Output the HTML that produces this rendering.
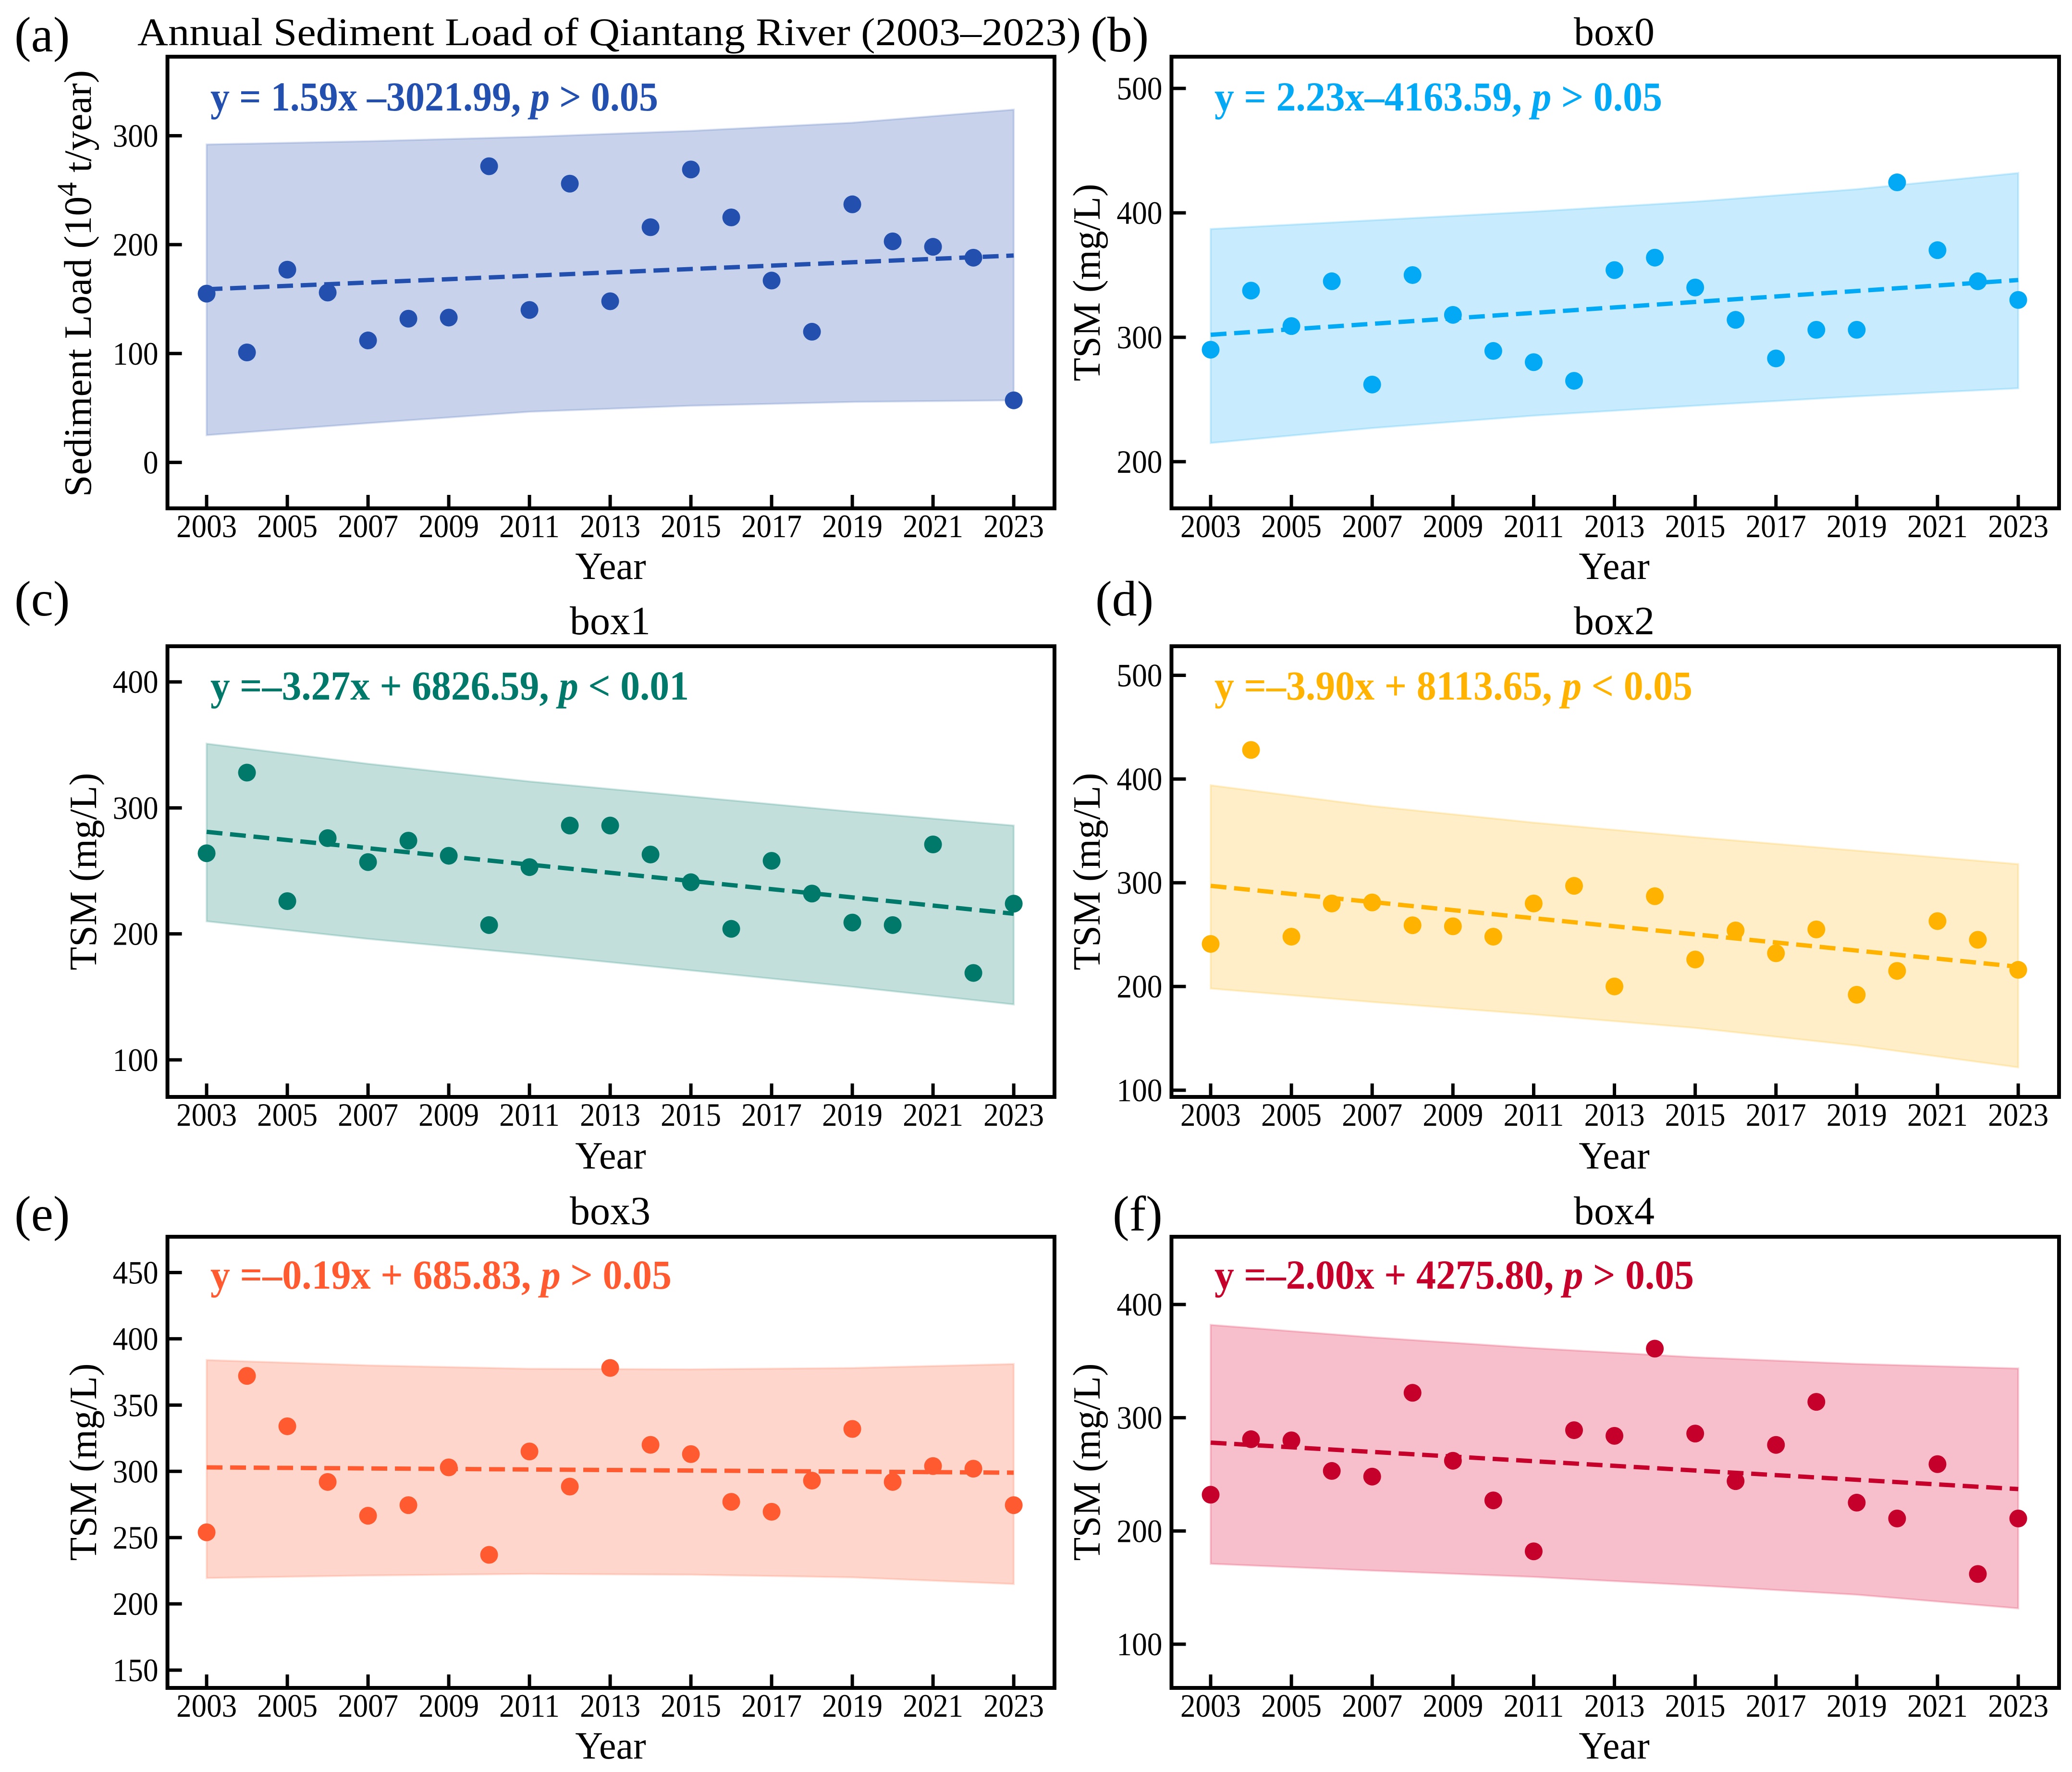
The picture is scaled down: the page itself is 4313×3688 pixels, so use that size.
<!DOCTYPE html>
<html lang="en">
<head>
<meta charset="utf-8">
<title>Annual Sediment Load and TSM of Qiantang River (2003–2023)</title>
<style>
html,body{margin:0;padding:0;background:#fff;}
svg{display:block;}
text{font-family:"Liberation Serif",serif;fill:#000;}
.lbl{font-size:104px;}
.ttl{font-size:84px;text-anchor:middle;}
.ax{font-size:80px;text-anchor:middle;}
.eq{font-size:86px;font-weight:bold;}
.eq tspan{font-style:italic;}
</style>
</head>
<body>
<svg id="figure" xmlns="http://www.w3.org/2000/svg" width="4313" height="3688" viewBox="0 0 4313 3688">
<rect width="4313" height="3688" fill="#fff"/>

<g id="panel-a"></g>
<g id="panel-b"></g>
<g id="panel-c"></g>
<g id="panel-d"></g>
<g id="panel-e"></g>
<g id="panel-f"></g>

<!-- Panel letters -->
<text class="lbl" x="30" y="107">(a)</text>
<text class="lbl" x="2270" y="107">(b)</text>
<text class="lbl" x="30" y="1281">(c)</text>
<text class="lbl" x="2280" y="1281">(d)</text>
<text class="lbl" x="30" y="2561">(e)</text>
<text class="lbl" x="2316" y="2561">(f)</text>

<!-- Titles -->
<text x="286" y="94" font-size="82" textLength="1964" lengthAdjust="spacingAndGlyphs">Annual Sediment Load of Qiantang River (2003–2023)</text>
<text class="ttl" x="3360" y="94">box0</text>
<text class="ttl" x="1270" y="1320">box1</text>
<text class="ttl" x="3360" y="1320">box2</text>
<text class="ttl" x="1270" y="2548">box3</text>
<text class="ttl" x="3360" y="2548">box4</text>

<!-- X axis titles -->
<text class="ax" x="1271" y="1205">Year</text>
<text class="ax" x="3360" y="1205">Year</text>
<text class="ax" x="1271" y="2432">Year</text>
<text class="ax" x="3360" y="2432">Year</text>
<text class="ax" x="1271" y="3660">Year</text>
<text class="ax" x="3360" y="3660">Year</text>

<!-- Y axis titles -->
<text font-size="80" text-anchor="middle" transform="translate(189,590) rotate(-90)" textLength="888" lengthAdjust="spacingAndGlyphs">Sediment Load (10<tspan dy="-30" font-size="58">4</tspan><tspan dy="30"> t/year)</tspan></text>
<text class="ax" transform="translate(2289,588) rotate(-90)">TSM (mg/L)</text>
<text class="ax" transform="translate(200,1814) rotate(-90)">TSM (mg/L)</text>
<text class="ax" transform="translate(2289,1814) rotate(-90)">TSM (mg/L)</text>
<text class="ax" transform="translate(200,3043) rotate(-90)">TSM (mg/L)</text>
<text class="ax" transform="translate(2289,3043) rotate(-90)">TSM (mg/L)</text>

<!-- Regression equations -->
<text class="eq" x="438" y="230" style="fill:#2350ae" textLength="932" lengthAdjust="spacingAndGlyphs">y = 1.59x –3021.99, <tspan>p</tspan> &gt; 0.05</text>
<text class="eq" x="2528" y="230" style="fill:#03a9f4" textLength="932" lengthAdjust="spacingAndGlyphs">y = 2.23x–4163.59, <tspan>p</tspan> &gt; 0.05</text>
<text class="eq" x="438" y="1456" style="fill:#00796b" textLength="996" lengthAdjust="spacingAndGlyphs">y =–3.27x + 6826.59, <tspan>p</tspan> &lt; 0.01</text>
<text class="eq" x="2528" y="1456" style="fill:#ffb300" textLength="995" lengthAdjust="spacingAndGlyphs">y =–3.90x + 8113.65, <tspan>p</tspan> &lt; 0.05</text>
<text class="eq" x="438" y="2682" style="fill:#ff5a30" textLength="960" lengthAdjust="spacingAndGlyphs">y =–0.19x + 685.83, <tspan>p</tspan> &gt; 0.05</text>
<text class="eq" x="2528" y="2682" style="fill:#c5002a" textLength="998" lengthAdjust="spacingAndGlyphs">y =–2.00x + 4275.80, <tspan>p</tspan> &gt; 0.05</text>
</svg>

<script>
// ---- shared data ----
const years = [2003,2004,2005,2006,2007,2008,2009,2010,2011,2012,2013,2014,2015,2016,2017,2018,2019,2020,2021,2022,2023];
const xTickYears = [2003,2005,2007,2009,2011,2013,2015,2017,2019,2021,2023];
const trendYears = [2003,2023];
const bandYears = [2003,2007,2011,2015,2019,2023];

// ---- panel (a) sediment load ----
const valuesA = [155,101,177,156,112,132,133,272,140,256,148,216,269,225,167,120,237,203,198,188,57];
const trendA = [159,190];
const upperA = [292,295,299,304.5,312,324];
const lowerA = [25,36,46.5,52,55.5,57];
const yTicksA = [0,100,200,300];

// ---- panel (b) box0 ----
const valuesB = [290,337.5,309,345,262,350,318,289,280,265,354,364,340,314,283,306,306,424.5,370,345,330];
const trendB = [302,346];
const upperB = [387,394,401,409,419,432];
const lowerB = [215,227,237,245,252.5,259];
const yTicksB = [200,300,400,500];

// ---- panel (c) box1 ----
const valuesC = [264,328,226,276,257,274,262,207,253,286,286,263,241,204,258,232,209,207,271,169,224];
const trendC = [281,216];
const upperC = [351,335,321,309,297,286];
const lowerC = [210,196,184,171,158,144];
const yTicksC = [100,200,300,400];

// ---- panel (d) box2 ----
const valuesD = [241,428,248,280,281,259,258,248,280,297,200,287,226,254,232,255,192,215,263,245,216];
const trendD = [297,219];
const upperD = [394,374,358,344,331,318];
const lowerD = [198,185,173,160,143,122];
const yTicksD = [100,200,300,400,500];

// ---- panel (e) box3 ----
const valuesE = [254,372,334,292,266.5,274.5,303,237,315,288.5,378,320,313,277,269.5,293,332,292,304,302,274.5];
const trendE = [303,299];
const upperE = [384,380,377.4,377,378,381];
const lowerE = [219.5,221.4,222.6,222,220,215];
const yTicksE = [150,200,250,300,350,400,450];

// ---- panel (f) box4 ----
const valuesF = [232,281,280,253,248,322,262,227,182,289,284,361,286,244,276,314,225,211,259,162,211];
const trendF = [278,237];
const upperF = [382,371,361.5,353.4,347.5,343.5];
const lowerF = [171,165,159.4,152,143.7,131.6];
const yTicksF = [100,200,300,400];

// ---- panel layout ----
const COL1 = {left:348.6, right:2195};
const COL2 = {left:2438.5, right:4286};
const XMIN = 2002.03, XMAX = 2024.01;
const panels = [
  {id:'a', col:COL1, top:118,  bottom:1058, yMin:-42.2, yMax:372.6, color:'#2350ae', bandColor:'#2350ae', bandAlpha:.25, values:valuesA, trend:trendA, upper:upperA, lower:lowerA, ticks:yTicksA},
  {id:'b', col:COL2, top:118,  bottom:1058, yMin:162.5, yMax:525.5, color:'#03a9f4', bandColor:'#03a9f4', bandAlpha:.22, values:valuesB, trend:trendB, upper:upperB, lower:lowerB, ticks:yTicksB},
  {id:'c', col:COL1, top:1345, bottom:2283, yMin:70.6,  yMax:428.3, color:'#00796b', bandColor:'#00796b', bandAlpha:.24, values:valuesC, trend:trendC, upper:upperC, lower:lowerC, ticks:yTicksC},
  {id:'d', col:COL2, top:1345, bottom:2283, yMin:93.5,  yMax:528,   color:'#ffb300', bandColor:'#ffb300', bandAlpha:.22, values:valuesD, trend:trendD, upper:upperD, lower:lowerD, ticks:yTicksD},
  {id:'e', col:COL1, top:2574, bottom:3513, yMin:136.6, yMax:477,   color:'#ff5a30', bandColor:'#ff5a30', bandAlpha:.25, values:valuesE, trend:trendE, upper:upperE, lower:lowerE, ticks:yTicksE},
  {id:'f', col:COL2, top:2574, bottom:3513, yMin:61.4,  yMax:459.8, color:'#c5002a', bandColor:'#e00030', bandAlpha:.25, values:valuesF, trend:trendF, upper:upperF, lower:lowerF, ticks:yTicksF}
];

const NS = 'http://www.w3.org/2000/svg';
function make(tag, parent) {
  const el = document.createElementNS(NS, tag);
  parent.appendChild(el);
  return el;
}

panels.forEach(function (p) {
  const g = document.getElementById('panel-' + p.id);
  const L = p.col.left, R = p.col.right, T = p.top, B = p.bottom;
  const xScale = function (v) { return L + (v - XMIN) / (XMAX - XMIN) * (R - L); };
  const yScale = function (v) { return B - (v - p.yMin) / (p.yMax - p.yMin) * (B - T); };

  // confidence band
  const top = bandYears.map(function (y, i) { return xScale(y) + ',' + yScale(p.upper[i]); });
  const bot = bandYears.map(function (y, i) { return xScale(y) + ',' + yScale(p.lower[i]); }).reverse();
  const band = make('polygon', g);
  
  
  band.setAttribute('points', top.concat(bot).join(' '));
  band.setAttribute('fill', p.bandColor);
  band.setAttribute('fill-opacity', p.bandAlpha);
  band.setAttribute('stroke', p.bandColor);
  band.setAttribute('stroke-opacity', '0.18');
  band.setAttribute('stroke-width', '4');

  // trend line
  const trend = make('line', g);
  
  
  trend.setAttribute('x1', xScale(trendYears[0]));
  trend.setAttribute('y1', yScale(p.trend[0]));
  trend.setAttribute('x2', xScale(trendYears[1]));
  trend.setAttribute('y2', yScale(p.trend[1]));
  trend.setAttribute('stroke', p.color);
  trend.setAttribute('stroke-width', '9');
  trend.setAttribute('stroke-dasharray', '33 16');

  // points
  years.forEach(function (yr, i) {
    const c = make('circle', g);
    
    
    c.setAttribute('cx', xScale(yr));
    c.setAttribute('cy', yScale(p.values[i]));
    c.setAttribute('r', '18.5');
    c.setAttribute('fill', p.color);
  });

  // frame
  const frame = make('rect', g);
  
  
  frame.setAttribute('x', L);
  frame.setAttribute('y', T);
  frame.setAttribute('width', R - L);
  frame.setAttribute('height', B - T);
  frame.setAttribute('fill', 'none');
  frame.setAttribute('stroke', '#000');
  frame.setAttribute('stroke-width', '8');

  // x ticks
  xTickYears.forEach(function (yr) {
    const t = make('line', g);
    
    
    t.setAttribute('x1', xScale(yr));
    t.setAttribute('x2', xScale(yr));
    t.setAttribute('y1', B);
    t.setAttribute('y2', B - 28);
    t.setAttribute('stroke', '#000');
    t.setAttribute('stroke-width', '7');
    const lab = make('text', g);
    
    
    lab.setAttribute('x', xScale(yr) - 63);
    lab.setAttribute('y', B + 60);
    lab.setAttribute('font-size', '68');
    lab.setAttribute('textLength', '126');
    lab.setAttribute('lengthAdjust', 'spacingAndGlyphs');
    lab.textContent = yr;
  });

  // y ticks
  p.ticks.forEach(function (v) {
    const t = make('line', g);
    
    
    t.setAttribute('x1', L);
    t.setAttribute('x2', L + 30);
    t.setAttribute('y1', yScale(v));
    t.setAttribute('y2', yScale(v));
    t.setAttribute('stroke', '#000');
    t.setAttribute('stroke-width', '7');
    const lab = make('text', g);
    
    
    lab.setAttribute('x', L - 19);
    lab.setAttribute('y', yScale(v) + 23);
    lab.setAttribute('font-size', '68');
    lab.setAttribute('text-anchor', 'end');
    lab.setAttribute('textLength', String(v).length * 31.7);
    lab.setAttribute('lengthAdjust', 'spacingAndGlyphs');
    lab.textContent = v;
  });
});
</script>
</body>
</html>
